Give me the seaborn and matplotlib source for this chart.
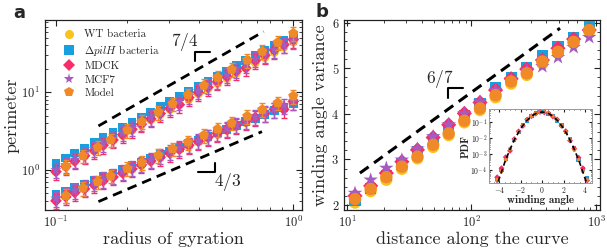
import matplotlib
matplotlib.use("Agg")
import matplotlib.pyplot as plt
from matplotlib.lines import Line2D
from matplotlib.ticker import LogLocator, MultipleLocator, NullFormatter
import numpy as np
import seaborn as sns

# ---- data: panel a (perimeter vs radius of gyration) ----
a_x = [0.100, 0.110, 0.120, 0.132, 0.145, 0.158, 0.174, 0.191, 0.209, 0.229, 0.251, 0.275, 0.302,
       0.331, 0.363, 0.398, 0.437, 0.479, 0.525, 0.575, 0.631, 0.692, 0.759, 0.832, 0.912, 1.000]
a_x_model = [0.11, 0.13, 0.15, 0.17, 0.20, 0.23, 0.27, 0.31, 0.36, 0.42, 0.48, 0.55, 0.64, 0.74, 0.86, 1.0]

wt_upper = [0.95, 1.11, 1.29, 1.51, 1.76, 2.05, 2.39, 2.79, 3.25, 3.79, 4.42, 5.16, 6.01, 7.01, 8.17,
            9.53, 11.1, 13.0, 15.1, 17.6, 20.5, 23.9, 27.9, 32.6, 38.0, 44.3]
pilh_upper = [1.22, 1.42, 1.65, 1.92, 2.24, 2.61, 3.03, 3.53, 4.11, 4.79, 5.57, 6.49, 7.55, 8.79, 10.2,
              11.9, 13.9, 16.1, 18.8, 21.9, 25.5, 29.6, 34.5, 40.2, 46.8, 54.5]
mdck_upper = [0.95, 1.11, 1.30, 1.52, 1.78, 2.08, 2.43, 2.84, 3.33, 3.89, 4.55, 5.32, 6.22, 6.90, 8.51,
              9.95, 11.6, 13.6, 15.9, 18.6, 20.5, 25.5, 29.8, 34.8, 40.7, 47.6]
mcf7_upper = [1.00, 1.16, 1.36, 1.59, 1.86, 2.18, 2.55, 2.98, 3.49, 4.08, 4.77, 5.58, 6.53, 7.64, 8.93,
              10.4, 12.2, 14.3, 16.7, 19.6, 22.9, 26.8, 30.5, 35.0, 40.5, 46.5]
model_upper = [1.12, 1.52, 1.95, 2.44, 3.26, 4.19, 5.56, 7.11, 9.29, 12.2, 15.5, 19.7, 25.9, 33.5, 43.7, 57.3]

wt_lower = [0.42, 0.47, 0.52, 0.58, 0.65, 0.73, 0.82, 0.92, 1.03, 1.15, 1.29, 1.45, 1.63, 1.82, 2.04,
            2.29, 2.57, 2.88, 3.22, 3.61, 4.05, 4.53, 5.08, 5.70, 6.38, 7.15]
pilh_lower = [0.48, 0.53, 0.59, 0.66, 0.74, 0.82, 0.91, 1.02, 1.13, 1.26, 1.41, 1.57, 1.75, 1.95, 2.17,
              2.42, 2.70, 3.01, 3.35, 3.73, 4.16, 4.63, 5.16, 5.75, 6.41, 7.14]
mdck_lower = [0.40, 0.45, 0.51, 0.57, 0.64, 0.72, 0.81, 0.91, 1.03, 1.16, 1.30, 1.46, 1.64, 1.85, 2.08,
              2.34, 2.64, 2.96, 3.34, 3.76, 4.23, 4.75, 5.35, 6.03, 6.00, 7.62]
mcf7_lower = [0.43, 0.48, 0.54, 0.60, 0.68, 0.76, 0.85, 0.95, 1.07, 1.20, 1.35, 1.51, 1.70, 1.91, 2.14,
              2.40, 2.69, 3.02, 3.39, 3.80, 4.27, 4.79, 5.37, 6.03, 6.76, 7.59]
model_lower = [0.467, 0.585, 0.706, 0.836, 1.04, 1.25, 1.55, 1.87, 2.28, 2.80, 3.35, 4.02, 4.92, 5.97, 7.29, 8.93]

# relative error bar sizes per series (panel a)
rel_err = {"WT": 0.0, "pilH": 0.0, "MDCK": 0.22, "MCF7": 0.22, "Model": 0.2}

# ---- data: panel b (winding angle variance) ----
b_x = [11.6, 15.5, 20.7, 27.6, 36.8, 49.2, 65.6, 87.6, 117, 156, 208, 278, 371, 495, 661, 882]
wt_b = [2.05, 2.30, 2.55, 2.79, 3.02, 3.27, 3.53, 3.81, 4.08, 4.36, 4.66, 4.85, 5.10, 5.33, 5.55, 5.80]
pilh_b = [2.10, 2.37, 2.64, 2.90, 3.18, 3.43, 3.70, 3.96, 4.22, 4.58, 4.80, 5.02, 5.27, 5.47, 5.68, 5.91]
mdck_b = [2.20, 2.42, 2.70, 2.95, 3.21, 3.48, 3.76, 4.01, 4.25, 4.52, 4.77, 4.98, 5.18, 5.44, 5.64, 5.84]
mcf7_b = [2.26, 2.55, 2.81, 2.99, 3.23, 3.50, 3.76, 4.01, 4.26, 4.52, 4.75, 4.96, 5.04, 5.24, 5.46, 5.68]
model_b = [2.13, 2.35, 2.61, 2.84, 3.06, 3.32, 3.57, 3.85, 4.12, 4.41, 4.71, 4.89, 5.15, 5.36, 5.58, 5.84]

# ---- data: inset (PDF of winding angle) ----
w_x = [-4.2, -3.8, -3.4, -3.0, -2.6, -2.2, -1.8, -1.4, -1.0, -0.6, -0.2,
       0.2, 0.6, 1.0, 1.4, 1.8, 2.2, 2.6, 3.0, 3.4, 3.8, 4.2]
wt_pdf = [2.2e-5, 8.5e-5, 4.6e-4, 2.1e-3, 8.0e-3, 2.6e-2, 6.3e-2, 0.14, 0.25, 0.36, 0.43,
          0.44, 0.36, 0.24, 0.14, 6.5e-2, 2.5e-2, 7.6e-3, 1.9e-3, 4.8e-4, 9.0e-5, 2.6e-5]
pilh_pdf = [2.8e-5, 9.5e-5, 5.0e-4, 1.8e-3, 7.5e-3, 2.4e-2, 6.6e-2, 0.13, 0.26, 0.37, 0.44,
            0.43, 0.35, 0.25, 0.13, 6.8e-2, 2.6e-2, 8.5e-3, 2.4e-3, 4.0e-4, 1.1e-4, 3.0e-5]
mdck_pdf = [3.5e-5, 1.3e-4, 6.5e-4, 1.6e-3, 8.8e-3, 2.7e-2, 6.0e-2, 0.15, 0.24, 0.35, 0.45,
            0.42, 0.37, 0.23, 0.15, 6.0e-2, 2.8e-2, 7.0e-3, 2.2e-3, 6.0e-4, 1.3e-4, 2.2e-5]
mcf7_pdf = [1.8e-5, 7.5e-5, 4.2e-4, 2.3e-3, 7.2e-3, 2.5e-2, 6.8e-2, 0.13, 0.26, 0.35, 0.42,
            0.45, 0.35, 0.26, 0.13, 6.2e-2, 2.4e-2, 8.0e-3, 1.7e-3, 5.2e-4, 8.0e-5, 3.2e-5]
model_pdf = [2.5e-5, 9.0e-5, 4.4e-4, 2.0e-3, 7.9e-3, 2.5e-2, 6.4e-2, 0.14, 0.25, 0.36, 0.44,
             0.44, 0.36, 0.25, 0.14, 6.4e-2, 2.5e-2, 7.8e-3, 2.0e-3, 4.5e-4, 8.5e-5, 2.4e-5]
fit_x = [-4.1, -3.5, -3.0, -2.5, -2.0, -1.5, -1.0, -0.5, 0, 0.5, 1.0, 1.5, 2.0, 2.5, 3.0, 3.5, 4.1]
fit_pdf = [1.9e-5, 2.9e-4, 2.0e-3, 1.06e-2, 4.1e-2, 0.116, 0.245, 0.385, 0.447,
           0.385, 0.245, 0.116, 4.1e-2, 1.06e-2, 2.0e-3, 2.9e-4, 1.9e-5]

labels = ["WT bacteria", r"$\Delta pilH$ bacteria", "MDCK", "MCF7", "Model"]
keys = ["WT", "pilH", "MDCK", "MCF7", "Model"]
colors = ["#F9C21E", "#16A0E0", "#F72C68", "#A45CC2", "#F08A28"]
markers_a = ["o", "s", "D", "*", "p"]
sizes_a = [42, 40, 36, 72, 60]

sns.set_theme(style="ticks")
plt.rcParams.update({
    "font.family": "serif",
    "font.serif": ["cmr10"],
    "mathtext.fontset": "cm",
    "axes.unicode_minus": False,
    "axes.formatter.use_mathtext": True,
    "xtick.direction": "in",
    "ytick.direction": "in",
    "xtick.top": True,
    "ytick.right": True,
    "xtick.minor.visible": True,
    "ytick.minor.visible": True,
    "axes.edgecolor": "#222222",
    "xtick.color": "#222222",
    "ytick.color": "#222222",
    "axes.linewidth": 0.9,
    "xtick.major.size": 4, "ytick.major.size": 4,
    "xtick.minor.size": 2, "ytick.minor.size": 2,
    "xtick.major.width": 0.8, "ytick.major.width": 0.8,
    "xtick.minor.width": 0.6, "ytick.minor.width": 0.6,
})

fig = plt.figure(figsize=(6.07, 2.52), dpi=100)
ax_a = fig.add_axes([0.0741, 0.1667, 0.4234, 0.754])
ax_b = fig.add_axes([0.5667, 0.1667, 0.4218, 0.754])

# ---- panel a ----
upper = [wt_upper, pilh_upper, mdck_upper, mcf7_upper, model_upper]
lower = [wt_lower, pilh_lower, mdck_lower, mcf7_lower, model_lower]
for i, key in enumerate(keys):
    xs = a_x_model if key == "Model" else a_x
    for ys in (upper[i], lower[i]):
        xs_arr = np.array(xs)
        ys_arr = np.array(ys)
        if rel_err[key] > 0:
            ax_a.errorbar(xs_arr, ys_arr, yerr=ys_arr * rel_err[key], fmt="none",
                          ecolor=colors[i], elinewidth=1.0, capsize=2.5, capthick=1.0,
                          zorder=2 + 2 * i)
        sns.scatterplot(x=xs_arr, y=ys_arr, ax=ax_a, marker=markers_a[i], s=sizes_a[i],
                        color=colors[i], edgecolor="none", linewidth=0, zorder=3 + 2 * i)

ax_a.set_xscale("log")
ax_a.set_yscale("log")
ax_a.set_xlim(0.0899, 1.088)
ax_a.set_ylim(0.305, 85)
ax_a.plot([0.151, 0.750], [3.68, 60.3], color="black", lw=2.0, dashes=(3.5, 2.2), zorder=20)
ax_a.plot([0.151, 0.738], [0.391, 3.11], color="black", lw=2.0, dashes=(3.5, 2.2), zorder=20)
ax_a.plot([0.386, 0.386, 0.447], [25.3, 33.3, 33.3], color="black", lw=1.5, zorder=20)
ax_a.plot([0.397, 0.469, 0.469], [0.951, 0.951, 1.23], color="black", lw=1.5, zorder=20)
ax_a.text(0.350, 44.8, r"$7/4$", fontsize=12.5, ha="center", va="center")
ax_a.text(0.527, 0.707, r"$4/3$", fontsize=12.5, ha="center", va="center")
ax_a.set_xlabel("radius of gyration", fontsize=13, labelpad=1)
ax_a.set_ylabel("perimeter", fontsize=13, labelpad=1)
ax_a.tick_params(labelsize=9)

handles = [Line2D([], [], marker=markers_a[i], color=colors[i], linestyle="none",
                  markersize=[6.5, 6.5, 6, 8, 7.5][i], markeredgewidth=0) for i in range(5)]
ax_a.legend(handles, labels, loc="upper left", frameon=False, fontsize=8,
            handlelength=1.0, handletextpad=0.9, labelspacing=0.32,
            borderaxespad=0.3, bbox_to_anchor=(0.04, 0.99))

# ---- panel b ----
b_series = [wt_b, pilh_b, mdck_b, mcf7_b, model_b]
markers_b = ["o", "s", "D", "*", "o"]
sizes_b = [75, 65, 60, 120, 80]
for i in range(5):
    sns.scatterplot(x=b_x, y=b_series[i], ax=ax_b, marker=markers_b[i], s=sizes_b[i],
                    color=colors[i], edgecolor="none", linewidth=0, zorder=3 + i)
ax_b.set_xscale("log")
ax_b.set_xlim(9.46, 1077)
ax_b.set_ylim(1.89, 6.06)
ax_b.yaxis.set_major_locator(MultipleLocator(1))
ax_b.yaxis.set_minor_locator(MultipleLocator(0.2))
ax_b.plot([12.7, 514], [2.70, 5.88], color="black", lw=2.2, dashes=(3.5, 2.2), zorder=20)
ax_b.plot([65.2, 65.2, 85.9], [4.34, 4.56, 4.56], color="black", lw=1.5, zorder=20)
ax_b.text(55.8, 4.76, r"$6/7$", fontsize=12.5, ha="center", va="center")
ax_b.set_xlabel("distance along the curve", fontsize=13, labelpad=1)
ax_b.set_ylabel("winding angle variance", fontsize=13, labelpad=2)
ax_b.tick_params(labelsize=9)

# ---- inset ----
ax_in = fig.add_axes([0.806, 0.2726, 0.1687, 0.2948])
pdf_series = [wt_pdf, pilh_pdf, mdck_pdf, mcf7_pdf, model_pdf]
for i in range(5):
    sns.scatterplot(x=w_x, y=pdf_series[i], ax=ax_in, marker=markers_a[i], s=9,
                    color=colors[i], edgecolor="none", linewidth=0, zorder=3 + i)
ax_in.plot(fit_x, fit_pdf, color="black", lw=1.2, dashes=(3, 2), zorder=10)
ax_in.set_yscale("log")
ax_in.set_xlim(-4.94, 4.62)
ax_in.set_ylim(1.45e-5, 0.685)
ax_in.yaxis.set_major_locator(LogLocator(base=10, numticks=10))
ax_in.set_yticks([1e-4, 1e-3, 1e-2, 1e-1])
ax_in.yaxis.set_minor_formatter(NullFormatter())
ax_in.set_xticks([-4, -2, 0, 2, 4])
ax_in.xaxis.set_minor_locator(MultipleLocator(0.5))
ax_in.tick_params(labelsize=5.5, pad=1.5, length=2)
ax_in.tick_params(which="minor", length=1)
for sp in ax_in.spines.values():
    sp.set_color("#999999")
    sp.set_linewidth(0.7)
ax_in.set_xlabel("winding angle", fontsize=8, family="cmb10", labelpad=0)
ax_in.set_ylabel("PDF", fontsize=8, family="cmb10", labelpad=0)

fig.text(0.031, 0.948, "a", fontsize=13, fontweight="bold", family="DejaVu Sans",
         ha="center", va="center")
fig.text(0.530, 0.952, "b", fontsize=13, fontweight="bold", family="DejaVu Sans",
         ha="center", va="center")

fig.savefig("out.png", dpi=100)
